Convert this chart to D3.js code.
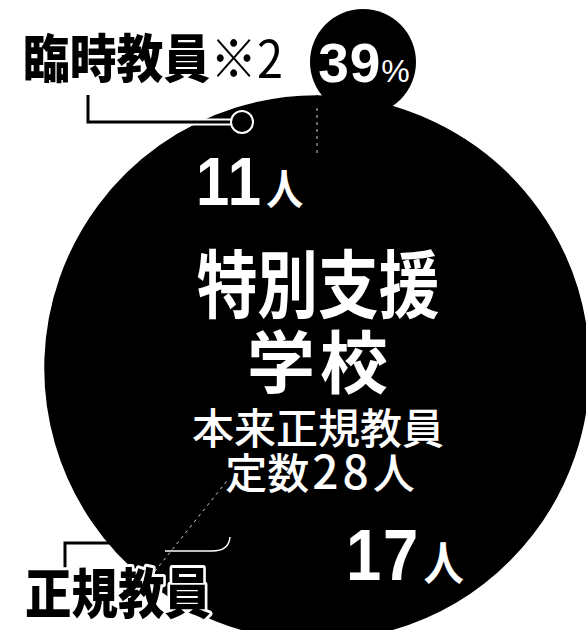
<!DOCTYPE html>
<html>
<head>
<meta charset="utf-8">
<script src="https://cdn.jsdelivr.net/npm/d3@7"></script>
<style>
  body { margin: 0; background: #fff; }
  svg { display: block; }
  text { font-family: "Noto Sans CJK JP", sans-serif; }
</style>
</head>
<body>
<svg id="chart" width="586" height="630"></svg>
<script>
// data
const categories = ["正規教員", "臨時教員"];
const teachers = [17, 11];
const noteMark = "※2";
const schoolName = ["特別支援", "学校"];
const quotaText = "本来正規教員";

const svg = d3.select("#chart");
const width = 586, height = 630;

const cx = 317, cy = 368, radius = 272;
const total = d3.sum(teachers);

const pie = d3.pie().sort(null).value(d => d);
const arcs = pie(teachers);
const arc = d3.arc().innerRadius(0).outerRadius(radius);

svg.append("rect").attr("width", width).attr("height", height).attr("fill", "#fff");

const g = svg.append("g").attr("transform", `translate(${cx},${cy})`);

// percent bubble for the temporary teachers
const bubble = { x: 363, y: 62, r: 53 };
svg.append("circle")
    .attr("cx", bubble.x).attr("cy", bubble.y).attr("r", bubble.r)
    .attr("fill", "#000");

g.selectAll("path.slice")
    .data(arcs)
    .enter().append("path")
    .attr("class", "slice")
    .attr("d", arc)
    .attr("fill", "#000")
    .attr("stroke", "#000")
    .attr("stroke-width", 1.5);

// dashed white borders between the slices (only the outer part shows)
const borders = [
    { angle: arcs[0].startAngle, r0: 215 },
    { angle: arcs[0].endAngle, r0: 145 }
];
g.selectAll("line.border")
    .data(borders)
    .enter().append("line")
    .attr("class", "border")
    .attr("x1", d => d3.pointRadial(d.angle, d.r0)[0])
    .attr("y1", d => d3.pointRadial(d.angle, d.r0)[1])
    .attr("x2", d => d3.pointRadial(d.angle, radius - 8)[0])
    .attr("y2", d => d3.pointRadial(d.angle, radius - 8)[1])
    .attr("stroke", "#fff")
    .attr("stroke-opacity", 0.8)
    .attr("stroke-width", 1)
    .attr("stroke-dasharray", "3,4");

// leader lines
svg.append("path")
    .attr("d", "M88,95 V122 H232")
    .attr("fill", "none")
    .attr("stroke", "#fff")
    .attr("stroke-width", 7);
svg.append("path")
    .attr("d", "M88,95 V122 H232")
    .attr("fill", "none")
    .attr("stroke", "#000")
    .attr("stroke-width", 3);
svg.append("circle")
    .attr("cx", 242).attr("cy", 122).attr("r", 11)
    .attr("fill", "#000")
    .attr("stroke", "#fff")
    .attr("stroke-width", 2);

svg.append("path")
    .attr("d", "M65,574 V543 H118")
    .attr("fill", "none")
    .attr("stroke", "#000")
    .attr("stroke-width", 3);
svg.append("path")
    .attr("d", "M165,551 H212 Q229,551 230,537")
    .attr("fill", "none")
    .attr("stroke", "#fff")
    .attr("stroke-width", 1.5);

// category labels
svg.append("text")
    .attr("transform", "translate(23,78) scale(0.9,1)")
    .attr("font-size", 52)
    .attr("font-weight", 900)
    .attr("fill", "#000")
    .text(categories[1])
    .append("tspan")
    .attr("font-weight", 400)
    .text(noteMark);

svg.append("text")
    .attr("transform", "translate(25,614) scale(0.86,1)")
    .attr("font-size", 54)
    .attr("font-weight", 900)
    .attr("fill", "#000")
    .attr("stroke", "#fff")
    .attr("stroke-width", 6)
    .attr("paint-order", "stroke")
    .attr("stroke-linejoin", "round")
    .text(categories[0]);

// percentage in the bubble
const pct = d3.format(".0%")(teachers[1] / total);
const pctText = svg.append("text")
    .attr("x", bubble.x + 1).attr("y", 82)
    .attr("text-anchor", "middle")
    .attr("fill", "#fff")
    .style("font-family", "'Liberation Sans', Arial, sans-serif")
    .attr("font-weight", "bold");
pctText.append("tspan").attr("font-size", 55).attr("letter-spacing", 1).text(pct.replace("%", ""));
pctText.append("tspan").attr("font-size", 32).attr("font-weight", "normal").text("%");

// counts
const countPos = [
    { x: 346, y: 580, big: 72, small: 46 },
    { x: 196, y: 205, big: 68, small: 42 }
];
teachers.forEach((v, i) => {
    const p = countPos[i];
    const t = svg.append("text")
        .attr("transform", `translate(${p.x},${p.y}) scale(0.88,1)`)
        .attr("fill", "#fff");
    t.append("tspan")
        .style("font-family", "'Liberation Sans', Arial, sans-serif")
        .attr("font-weight", "bold")
        .attr("font-size", p.big)
        .attr("letter-spacing", 2)
        .text(v);
    t.append("tspan")
        .attr("font-size", p.small)
        .attr("font-weight", 700)
        .attr("dx", 4)
        .text("人");
});

// centre title
svg.append("text")
    .attr("transform", "translate(318,312) scale(0.82,1)")
    .attr("text-anchor", "middle")
    .attr("font-size", 74)
    .attr("font-weight", 700)
    .attr("fill", "#fff")
    .text(schoolName[0]);

svg.append("text")
    .attr("x", 320).attr("y", 388)
    .attr("text-anchor", "middle")
    .attr("font-size", 68)
    .attr("font-weight", 700)
    .attr("letter-spacing", 5)
    .attr("fill", "#fff")
    .text(schoolName[1]);

svg.append("text")
    .attr("x", 318).attr("y", 444)
    .attr("text-anchor", "middle")
    .attr("font-size", 42)
    .attr("font-weight", 500)
    .attr("fill", "#fff")
    .text(quotaText);

const quota = svg.append("text")
    .attr("x", 320).attr("y", 489)
    .attr("text-anchor", "middle")
    .attr("font-size", 42)
    .attr("font-weight", 500)
    .attr("fill", "#fff");
quota.append("tspan").text("定数");
quota.append("tspan").attr("font-size", 46).attr("letter-spacing", 4).attr("dx", 3).text(total);
quota.append("tspan").text("人");
</script>
</body>
</html>
